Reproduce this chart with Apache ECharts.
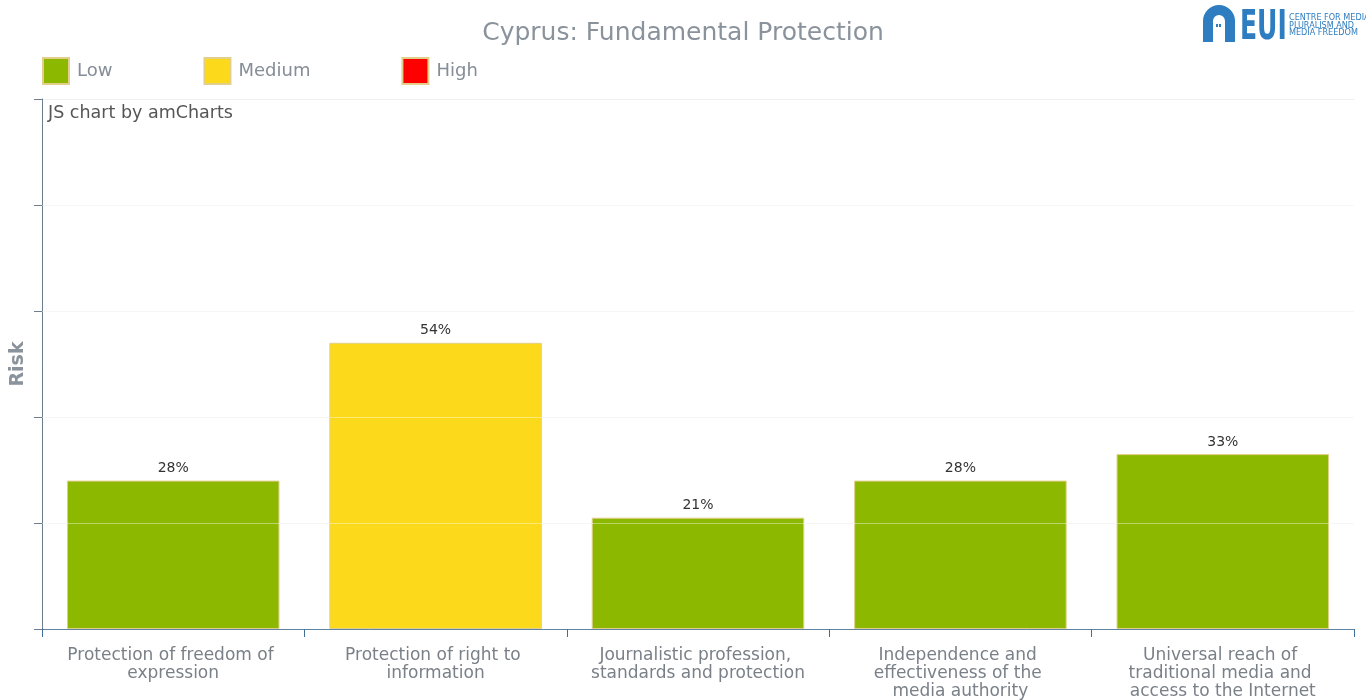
<!DOCTYPE html>
<html>
<head>
    <meta charset="UTF-8">
    <style type="text/css">
        html, body { margin: 0; padding: 0; background: #fff; }
        #chart { width: 1366px; height: 700px; }
    </style>
</head>
<body>
    <div id="chart"></div>
    <script src="https://cdn.jsdelivr.net/npm/echarts@6/dist/echarts.min.js"></script>
    <script type="text/javascript">
        'use strict';
        var categories = [
            'Protection of freedom of expression',
            'Protection of right to information',
            'Journalistic profession, standards and protection',
            'Independence and effectiveness of the media authority',
            'Universal reach of traditional media and access to the Internet'
        ];
        var riskValues = [28, 54, 21, 28, 33];
        var levelNames = ['Low', 'Medium', 'High'];
        var levelColors = ['#8cb900', '#fcd91a', '#ff0000'];
        var gridTicks = [20, 40, 60, 80];

        var font = 'DejaVu Sans';
        var logoBlue = '#2e7dc0';

        function levelOf(v) {
            if (v < 34) return 0;
            if (v < 67) return 1;
            return 2;
        }

        var series = levelNames.map(function (name, li) {
            var s = {
                name: name,
                type: 'bar',
                barGap: '-100%',
                barCategoryGap: '19%',
                itemStyle: { color: levelColors[li], borderColor: '#e2cf8c', borderWidth: 1 },
                label: {
                    show: true,
                    position: 'top',
                    distance: 5,
                    formatter: '{c}%',
                    color: '#333',
                    fontFamily: font,
                    fontSize: 14
                },
                data: riskValues.map(function (v) {
                    return levelOf(v) === li ? v : null;
                })
            };
            if (li === 0) {
                // faint grid lines drawn over the bars, like the original
                s.markLine = {
                    silent: true,
                    symbol: 'none',
                    label: { show: false },
                    lineStyle: { color: 'rgba(255,255,255,0.4)', type: 'solid', width: 1 },
                    data: gridTicks.map(function (t) { return { yAxis: t }; })
                };
            }
            return s;
        });

        var chart = echarts.init(document.getElementById('chart'));
        chart.setOption({
            animation: false,
            backgroundColor: '#fff',
            title: {
                text: 'Cyprus: Fundamental Protection',
                left: 'center',
                top: 16,
                textStyle: { fontFamily: font, fontSize: 25, fontWeight: 'normal', color: '#8a929b' }
            },
            legend: {
                left: 42,
                top: 57,
                padding: 0,
                itemWidth: 26,
                itemHeight: 26,
                itemGap: 91,
                icon: 'rect',
                data: levelNames,
                textStyle: { fontFamily: font, fontSize: 18, color: '#858d96', padding: [0, 0, 0, 3] }
            },
            grid: { left: 42, right: 12, top: 99, bottom: 71, outerBoundsMode: 'none' },
            xAxis: {
                type: 'category',
                data: categories,
                axisLine: { lineStyle: { color: '#5f84a3', width: 1 } },
                axisTick: { show: true, length: 8, lineStyle: { color: '#3f6f96' } },
                axisLabel: {
                    interval: 0,
                    margin: 18,
                    width: 218,
                    overflow: 'break',
                    lineHeight: 18,
                    color: '#7a8088',
                    fontFamily: font,
                    fontSize: 17
                }
            },
            yAxis: {
                type: 'value',
                min: 0,
                max: 100,
                interval: 20,
                name: 'Risk',
                nameLocation: 'middle',
                nameGap: 14,
                nameTextStyle: { fontFamily: font, fontSize: 19, fontWeight: 'bold', color: '#8a929b' },
                axisLine: { show: true, lineStyle: { color: '#6d7f8f', width: 1 } },
                axisTick: { show: true, length: 8, lineStyle: { color: '#6d7f8f' } },
                axisLabel: { show: false },
                splitLine: { lineStyle: { color: '#f0f0f0', width: 1 } }
            },
            graphic: [
                {
                    type: 'text', x: 48, y: 104,
                    style: { text: 'JS chart by amCharts', fill: '#555', font: '17.5px "DejaVu Sans"' }
                },
                {
                    type: 'group', x: 1203, y: 5,
                    children: [
                        { type: 'sector', shape: { cx: 16, cy: 16, r: 16, r0: 6, startAngle: Math.PI, endAngle: Math.PI * 2 }, style: { fill: logoBlue } },
                        { type: 'rect', shape: { x: 0, y: 15.5, width: 10, height: 21.5 }, style: { fill: logoBlue } },
                        { type: 'rect', shape: { x: 22, y: 15.5, width: 10, height: 21.5 }, style: { fill: logoBlue } },
                        { type: 'rect', shape: { x: 13, y: 19, width: 2, height: 3 }, style: { fill: logoBlue } },
                        { type: 'rect', shape: { x: 16, y: 19, width: 2, height: 3 }, style: { fill: logoBlue } }
                    ]
                },
                {
                    type: 'text', x: 1240, y: 9, scaleX: 0.87, scaleY: 1.25,
                    style: { text: 'EUI', fill: logoBlue, font: 'bold 32px "DejaVu Sans Condensed", sans-serif' }
                },
                {
                    type: 'text', x: 1289, y: 14,
                    style: { text: 'CENTRE FOR MEDIA\nPLURALISM AND\nMEDIA FREEDOM', fill: logoBlue, font: '9px "DejaVu Sans Condensed"', lineHeight: 7.5 }
                }
            ],
            series: series
        });
    </script>
</body>
</html>
